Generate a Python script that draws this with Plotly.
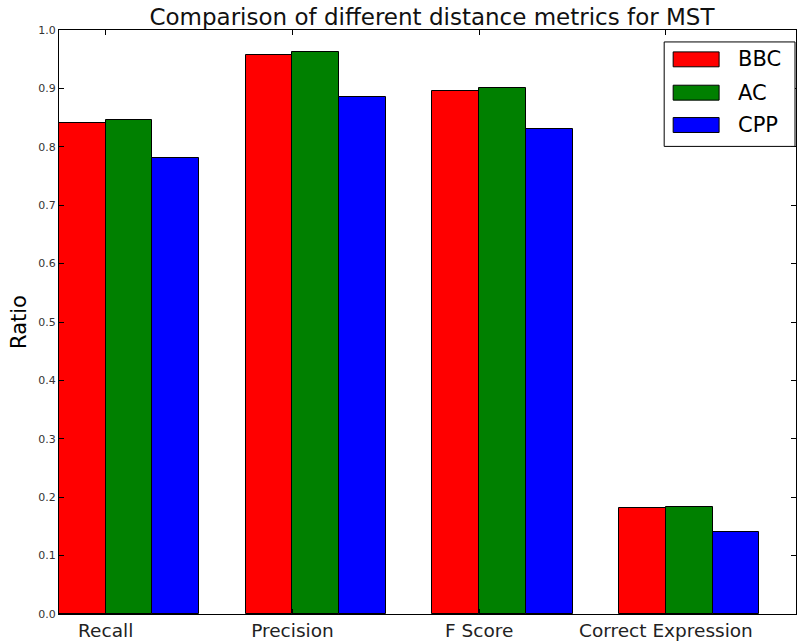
import numpy as np
import plotly.graph_objects as go

categories = ["Recall", "Precision", "F Score", "Correct Expression"]
series_names = ["BBC", "AC", "CPP"]
bbc = [0.840, 0.957, 0.895, 0.181]
ac = [0.846, 0.962, 0.900, 0.184]
cpp = [0.780, 0.886, 0.831, 0.140]
colors = ["#ff0000", "#008000", "#0000ff"]
y_ticks = [0.0, 0.1, 0.2, 0.3, 0.4, 0.5, 0.6, 0.7, 0.8, 0.9, 1.0]

W, H = 797, 641
ML, MR, MT, MB = 59, 0, 30, 24
PW, PH = W - ML - MR, H - MT - MB

def px(xp):
    return (xp - ML) / PW

def py(yp):
    return (H - MB - yp) / PH

width = 0.25
idx = np.arange(len(categories))
fig = go.Figure()
for k, (name, vals, col) in enumerate(zip(series_names, [bbc, ac, cpp], colors)):
    fig.add_trace(go.Bar(
        x=idx + k * width, y=vals, name=name, width=width, offset=0,
        marker=dict(color=col, line=dict(color="black", width=1)),
        showlegend=False,
    ))

# custom legend (matplotlib style)
shapes = [dict(type="rect", xref="paper", yref="paper",
               x0=px(665), x1=px(796), y0=py(147), y1=py(42),
               line=dict(color="black", width=1), fillcolor="white", layer="above")]
annotations = []
centers = [59.5, 93, 125.5]
for name, col, cy in zip(series_names, colors, centers):
    shapes.append(dict(type="rect", xref="paper", yref="paper",
                       x0=px(674), x1=px(720), y0=py(cy + 7.5), y1=py(cy - 7.5),
                       line=dict(color="black", width=1), fillcolor=col, layer="above"))
    annotations.append(dict(xref="paper", yref="paper", x=px(737), y=py(cy),
                            xanchor="left", yanchor="middle", text=name, showarrow=False,
                            font=dict(size=21, family="DejaVu Sans", color="black")))

fig.update_layout(
    width=W, height=H,
    margin=dict(l=ML, r=MR, t=MT, b=MB),
    paper_bgcolor="white", plot_bgcolor="white",
    font=dict(family="DejaVu Sans", color="black"),
    title=dict(text="Comparison of different distance metrics for MST",
               x=0.542, xanchor="center", y=0.973, yanchor="middle",
               font=dict(size=23, family="DejaVu Sans", color="#111")),
    barmode="overlay",
    bargap=0,
    shapes=shapes,
    annotations=annotations,
)
fig.update_xaxes(
    range=[0, PW / 187], tickvals=idx + width, ticktext=categories,
    showline=True, linecolor="black", linewidth=1, mirror="allticks",
    ticks="inside", ticklen=5, tickcolor="black", showgrid=False, zeroline=False,
    tickfont=dict(size=18.5, family="DejaVu Sans", color="#222"),
)
fig.update_yaxes(
    range=[0, 1.0], tickvals=y_ticks, ticktext=[f"{v:.1f}" for v in y_ticks],
    showline=True, linecolor="black", linewidth=1, mirror="allticks",
    ticks="inside", ticklen=5, tickcolor="black", showgrid=False, zeroline=False,
    tickfont=dict(size=11, family="DejaVu Sans", color="#333"),
    title=dict(text="Ratio", font=dict(size=21, family="DejaVu Sans", color="black"), standoff=5),
)
fig.write_html("out.html")
